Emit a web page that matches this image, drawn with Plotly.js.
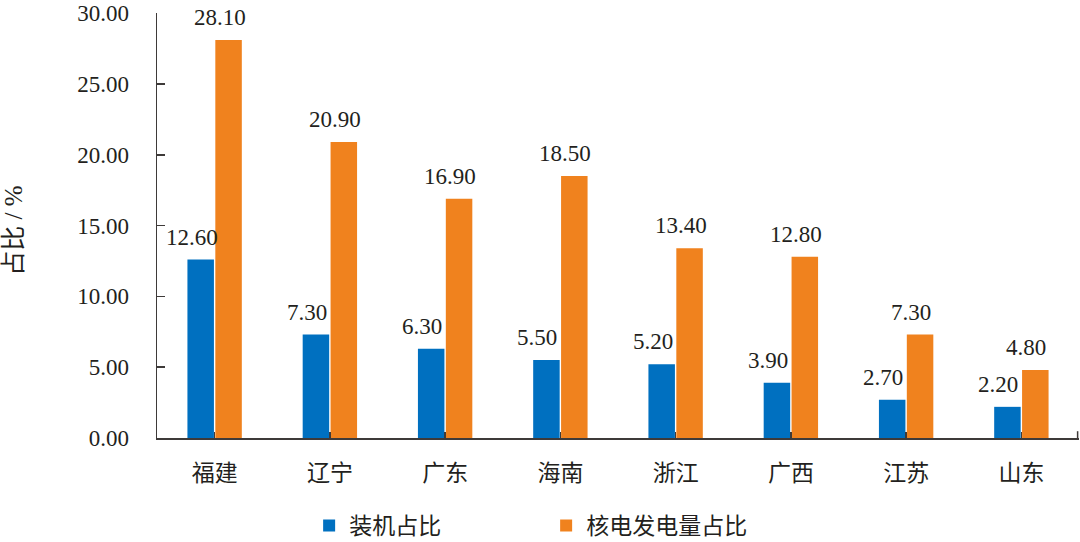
<!DOCTYPE html>
<html>
<head>
<meta charset="utf-8">
<script src="https://cdn.plot.ly/plotly-3.0.1.min.js"></script>
<style>html,body{margin:0;padding:0;background:#fff;}#chart{width:1080px;height:542px;}</style>
</head>
<body>
<div id="chart"></div>
<script>
var categories = ['福建', '辽宁', '广东', '海南', '浙江', '广西', '江苏', '山东'];
var installedShare = [12.60, 7.30, 6.30, 5.50, 5.20, 3.90, 2.70, 2.20];
var generationShare = [28.10, 20.90, 16.90, 18.50, 13.40, 12.80, 7.30, 4.80];
var seriesNames = ['装机占比', '核电发电量占比'];
var yTickValues = [0, 5, 10, 15, 20, 25, 30];

var FONT = 'Liberation Serif, "Noto Sans CJK SC", serif';
var CJK = '"Noto Sans CJK SC", "Liberation Serif", sans-serif';
var TXT = '#231f20';
var AX = '#3e3a39';

var traces = [
  {type: 'bar', name: seriesNames[0], x: categories, y: installedShare,
   marker: {color: '#0070C0'}, hoverinfo: 'none'},
  {type: 'bar', name: seriesNames[1], x: categories, y: generationShare,
   marker: {color: '#F0821E'}, hoverinfo: 'none'}
];

var annotations = [];
function addLabels(vals, xs) {
  for (var i = 0; i < vals.length; i++) {
    annotations.push({
      x: categories[i], y: vals[i], xref: 'x', yref: 'y',
      text: vals[i].toFixed(2), showarrow: false,
      xanchor: 'center', yanchor: 'bottom', xshift: xs, yshift: 8,
      font: {family: FONT, size: 23, color: TXT}
    });
  }
}
addLabels(installedShare, -23);
addLabels(generationShare, 5);

annotations.push({
  xref: 'paper', yref: 'paper', x: -0.155, y: 0.488,
  text: '占比 / %', textangle: -90, showarrow: false,
  xanchor: 'center', yanchor: 'middle',
  font: {family: FONT, size: 25, color: TXT}
});

var layout = {
  width: 1080, height: 542,
  margin: {l: 157, r: 1, t: 13, b: 104, autoexpand: false},
  paper_bgcolor: '#fff', plot_bgcolor: '#fff',
  barmode: 'group', bargap: 0.516, bargroupgap: 0.05,
  showlegend: true,
  legend: {orientation: 'h', x: 0.165, xanchor: 'left', y: -0.206, yanchor: 'middle',
           font: {family: CJK, size: 23, color: TXT},
           entrywidth: 192, entrywidthmode: 'pixels', traceorder: 'normal'},
  xaxis: {type: 'category', showline: true, linecolor: AX, linewidth: 1.5,
          ticks: 'inside', ticklen: 6, tickcolor: AX, tickwidth: 1.5,
          showgrid: false, zeroline: false, ticklabelstandoff: 14, automargin: false,
          tickfont: {family: CJK, size: 23, color: TXT}, fixedrange: true},
  yaxis: {range: [0, 30.01], tickvals: yTickValues, tickformat: '.2f',
          showline: true, linecolor: AX, linewidth: 1.5,
          ticks: 'inside', ticklen: 8, tickcolor: AX, tickwidth: 1.5,
          showgrid: false, zeroline: false, ticklabelstandoff: 22, automargin: false,
          ticklabeloverflow: 'allow',
          tickfont: {family: FONT, size: 23, color: TXT}, fixedrange: true},
  annotations: annotations,
  shapes: [{type: 'line', xref: 'paper', yref: 'paper', x0: 0.9985, x1: 0.9985, y0: 0, y1: 0.016,
            line: {color: AX, width: 1.5}}]
};

Plotly.newPlot('chart', traces, layout, {displayModeBar: false, staticPlot: true});
</script>
</body>
</html>
